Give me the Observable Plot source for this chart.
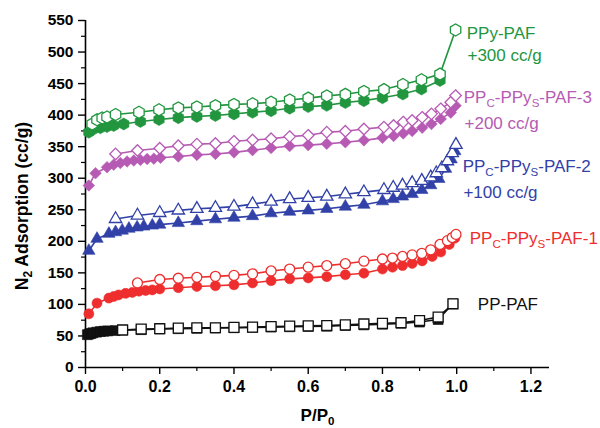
<!DOCTYPE html>
<html>
<head>
<meta charset="utf-8">
<script src="https://cdn.jsdelivr.net/npm/d3@7"></script>
<script src="https://cdn.jsdelivr.net/npm/@observablehq/plot@0.6"></script>
<style>
  body { margin: 0; background: #fff; }
</style>
</head>
<body>
<div id="chart"></div>
<script>
// ---- Data (values as plotted, i.e. including the offsets) ----
const seriesNames = ["PP-PAF", "PPc-PPys-PAF-1", "PPc-PPys-PAF-2", "PPc-PPys-PAF-3", "PPy-PAF"];
const seriesColors = ["#111111", "#ee2e2e", "#3141a8", "#b65ab4", "#21963f"];
const seriesSymbols = ["square", "circle", "triangle", "diamond2", "hexagon"];

// PP-PAF
const ppAdsP = [0.005, 0.01, 0.015, 0.02, 0.03, 0.04, 0.05, 0.06, 0.08, 0.1, 0.15, 0.2, 0.25, 0.3, 0.35, 0.4, 0.45, 0.5, 0.55, 0.6, 0.65, 0.7, 0.75, 0.8, 0.85, 0.9, 0.95, 0.99];
const ppAdsV = [52, 53, 54, 55, 56, 57, 57.5, 58, 58.5, 59, 60, 61, 61.5, 62, 62.5, 63, 63.5, 64, 64.5, 65, 65.5, 66.5, 67.5, 68.5, 70, 72, 76, 101];
const ppDesP = [0.1, 0.15, 0.2, 0.25, 0.3, 0.35, 0.4, 0.45, 0.5, 0.55, 0.6, 0.65, 0.7, 0.75, 0.8, 0.85, 0.9, 0.95, 0.99];
const ppDesV = [59.5, 61, 61.5, 62.5, 63, 63, 63.5, 64, 65, 65.5, 66, 66.5, 67.5, 69, 70, 71, 74.5, 80, 101];

// PPc-PPys-PAF-1
const p1AdsP = [0.009, 0.031, 0.063, 0.076, 0.089, 0.108, 0.126, 0.144, 0.162, 0.18, 0.2, 0.25, 0.3, 0.35, 0.4, 0.45, 0.5, 0.55, 0.6, 0.65, 0.7, 0.75, 0.8, 0.827, 0.854, 0.88, 0.907, 0.934, 0.957, 0.98, 0.995];
const p1AdsV = [85, 102, 110, 112.5, 115, 117.5, 119, 121, 122, 123, 124.5, 126.5, 128.5, 129.5, 131, 134, 137.5, 140.5, 142, 144, 147, 149.5, 156, 159, 161.5, 165, 169, 176, 183, 195, 205];
const p1DesP = [0.14, 0.2, 0.25, 0.3, 0.35, 0.4, 0.45, 0.5, 0.55, 0.6, 0.65, 0.7, 0.75, 0.8, 0.827, 0.854, 0.88, 0.906, 0.93, 0.955, 0.975, 0.988, 0.998];
const p1DesV = [134, 139.5, 141.5, 143, 144.5, 146, 148.5, 153, 156, 159, 161.5, 164.5, 168.5, 172, 173.5, 176, 178.5, 181, 186.5, 195, 201, 206, 211];

// PPc-PPys-PAF-2 (+100 cc/g)
const p2AdsP = [0.009, 0.031, 0.063, 0.081, 0.099, 0.117, 0.139, 0.157, 0.18, 0.2, 0.25, 0.3, 0.35, 0.4, 0.45, 0.5, 0.55, 0.6, 0.65, 0.7, 0.75, 0.8, 0.829, 0.854, 0.88, 0.906, 0.93, 0.952, 0.97, 0.985, 0.995];
const p2AdsV = [185, 204, 212, 214.5, 217, 220, 222, 223.5, 225, 226.5, 229, 232, 235, 237.5, 240, 244.5, 247, 249, 251.5, 255, 258, 263.5, 267, 271, 275, 281.5, 289, 299, 315, 330, 343];
const p2DesP = [0.081, 0.14, 0.2, 0.25, 0.3, 0.35, 0.4, 0.45, 0.5, 0.55, 0.6, 0.65, 0.7, 0.75, 0.804, 0.829, 0.854, 0.88, 0.906, 0.93, 0.945, 0.96, 0.975, 0.988, 0.998];
const p2DesV = [235.5, 241, 245, 249, 251.5, 253, 255, 259, 263, 267, 269, 271, 274.5, 278, 281.5, 285, 288.5, 292.5, 296, 301.5, 308, 316, 327, 340, 353];

// PPc-PPys-PAF-3 (+200 cc/g)
const p3AdsP = [0.009, 0.027, 0.058, 0.076, 0.094, 0.112, 0.13, 0.148, 0.166, 0.184, 0.202, 0.25, 0.3, 0.35, 0.4, 0.45, 0.5, 0.55, 0.6, 0.65, 0.7, 0.75, 0.8, 0.83, 0.856, 0.88, 0.907, 0.932, 0.957, 0.984, 0.997];
const p3AdsV = [288.5, 308, 317.5, 321.5, 324, 326.5, 328, 329, 330.5, 331, 332.5, 334.5, 337, 338.5, 341, 344.5, 348, 351, 352.5, 354.5, 357, 360, 364, 367, 371, 375, 380, 386, 394, 404, 415];
const p3DesP = [0.081, 0.14, 0.2, 0.25, 0.3, 0.35, 0.4, 0.45, 0.5, 0.55, 0.6, 0.65, 0.7, 0.75, 0.804, 0.83, 0.856, 0.88, 0.907, 0.932, 0.957, 0.984, 0.997];
const p3DesV = [338.5, 344, 347.5, 351.5, 354, 355, 358.5, 360.5, 362.5, 366, 368, 373, 374.5, 378, 381, 383.5, 389, 391.5, 396.5, 402, 410, 420.5, 431];

// PPy-PAF (+300 cc/g)
const pyAdsP = [0.009, 0.022, 0.04, 0.058, 0.076, 0.103, 0.148, 0.198, 0.25, 0.3, 0.35, 0.4, 0.45, 0.5, 0.55, 0.6, 0.65, 0.7, 0.75, 0.8, 0.855, 0.905, 0.955];
const pyAdsV = [373, 378, 380, 382, 383.5, 386, 390, 393, 396, 398, 399.5, 402, 404.5, 407, 411, 413.5, 415.5, 420, 423, 427.5, 433.5, 441.5, 455];
const pyDesP = [0.018, 0.031, 0.045, 0.058, 0.081, 0.144, 0.198, 0.25, 0.3, 0.35, 0.4, 0.45, 0.5, 0.55, 0.6, 0.65, 0.7, 0.75, 0.804, 0.855, 0.905, 0.955, 0.997];
const pyDesV = [386, 392.5, 395.5, 397, 401, 404.5, 408.5, 411.5, 413, 415, 417, 418, 420.5, 424, 427, 430.5, 433, 437.5, 440.5, 448.5, 456, 465, 535];

// Series annotations
const labelText = ["PPy-PAF", "+300 cc/g", "PP_{C}-PPy_{S}-PAF-3", "+200 cc/g", "PP_{C}-PPy_{S}-PAF-2", "+100 cc/g", "PP_{C}-PPy_{S}-PAF-1", "PP-PAF"];
const labelSeries = [4, 4, 3, 3, 2, 2, 1, 0];
const labelP = [1.027, 1.029, 1.019, 1.021, 1.016, 1.018, 1.035, 1.057];
const labelV = [530, 495, 427.5, 387, 318.5, 277, 205, 100];

// Axes
const xTicks = [0, 0.2, 0.4, 0.6, 0.8, 1.0, 1.2];
const xMinor = [0.1, 0.3, 0.5, 0.7, 0.9, 1.1];
const yTicks = [0, 50, 100, 150, 200, 250, 300, 350, 400, 450, 500, 550];
const yMinor = [25, 75, 125, 175, 225, 275, 325, 375, 425, 475, 525];
const xTitle = "P/P_{0}";
const yTitle = "N_{2} Adsorption (cc/g)";

// ---- Build tables ----
const branches = [
  [ppAdsP, ppAdsV, ppDesP, ppDesV],
  [p1AdsP, p1AdsV, p1DesP, p1DesV],
  [p2AdsP, p2AdsV, p2DesP, p2DesV],
  [p3AdsP, p3AdsV, p3DesP, p3DesV],
  [pyAdsP, pyAdsV, pyDesP, pyDesV]
];
const toRows = (P, V) => P.map((p, i) => ({p, v: V[i]}));
const labels = labelText.map((t, i) => ({text: t, p: labelP[i], v: labelV[i], color: seriesColors[labelSeries[i]]}));

const symR = {square: 5.6, circle: 5, triangle: 4.6, diamond2: 5.2, hexagon: 5.2};

const seriesMarks = branches.flatMap(([aP, aV, dP, dV], s) => {
  const ads = toRows(aP, aV), des = toRows(dP, dV);
  const color = seriesColors[s], symbol = seriesSymbols[s], r = symR[symbol];
  return [
    Plot.line(ads, {x: "p", y: "v", stroke: color, strokeWidth: 1.6}),
    Plot.line(des, {x: "p", y: "v", stroke: color, strokeWidth: 1.6}),
    Plot.dot(ads, {x: "p", y: "v", symbol, r, fill: color, stroke: color, strokeWidth: 0.6}),
    Plot.dot(des, {x: "p", y: "v", symbol, r, fill: "white", stroke: color, strokeWidth: 1.3})
  ];
});

const chart = Plot.plot({
  width: 600,
  height: 428,
  marginLeft: 85,
  marginRight: 51,
  marginTop: 20,
  marginBottom: 61,
  style: {fontFamily: "'Liberation Sans', Arial, sans-serif", background: "white", color: "black"},
  x: {domain: [0, 1.25]},
  y: {domain: [0, 550]},
  marks: [
    Plot.axisY({ticks: yTicks, tickSize: 7, tickPadding: 5, strokeWidth: 1.4, fontSize: 15.5, fontWeight: "bold", label: null}),
    Plot.axisY({ticks: yMinor, tickSize: 4, strokeWidth: 1.2, tickFormat: () => "", label: null}),
    Plot.axisX({ticks: xTicks, tickSize: 7, tickPadding: 6, strokeWidth: 1.4, fontSize: 16, fontWeight: "bold", tickFormat: d3.format(".1f"), label: null}),
    Plot.axisX({ticks: xMinor, tickSize: 4, strokeWidth: 1.2, tickFormat: () => "", label: null}),
    Plot.ruleX([0], {strokeWidth: 1.6}),
    Plot.ruleY([0], {strokeWidth: 1.6}),
    ...seriesMarks,
    Plot.text(labels, {x: "p", y: "v", text: "text", fill: "color", textAnchor: "start", lineAnchor: "middle", fontSize: 17}),
    Plot.text([xTitle], {text: d => d, frameAnchor: "bottom", textAnchor: "middle", lineAnchor: "middle", dy: 48, fontSize: 17, fontWeight: "bold"}),
    Plot.text([yTitle], {text: d => d, frameAnchor: "left", textAnchor: "middle", lineAnchor: "middle", dx: -63, dy: 12, rotate: -90, fontSize: 17.5, fontWeight: "bold"})
  ]
});

// Render "_{...}" as real subscripts
d3.select(chart).selectAll("text").each(function () {
  const t = this.textContent;
  if (!t.includes("_{")) return;
  const parts = t.split(/_\{([^}]*)\}/);
  const el = d3.select(this);
  el.text(null);
  let wasSub = false;
  parts.forEach((part, i) => {
    if (!part) return;
    const sub = i % 2 === 1;
    const ts = el.append("tspan").text(part);
    if (sub) { ts.attr("font-size", "0.68em").attr("dy", "4"); wasSub = true; }
    else if (wasSub) { ts.attr("dy", "-4"); wasSub = false; }
  });
});

document.getElementById("chart").append(chart);
</script>
</body>
</html>
